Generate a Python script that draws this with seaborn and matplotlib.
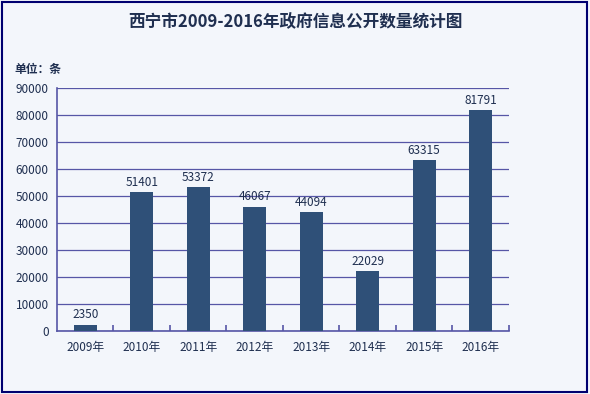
import matplotlib
matplotlib.use('Agg')
import matplotlib.pyplot as plt
import seaborn as sns
import pandas as pd
from matplotlib.patches import Rectangle

years = ['2009年', '2010年', '2011年', '2012年', '2013年', '2014年', '2015年', '2016年']
counts = [2350, 51401, 53372, 46067, 44094, 22029, 63315, 81791]

df = pd.DataFrame({'year': years, 'count': counts})

sns.set_theme(style='white')
plt.rcParams['font.family'] = ['Noto Sans CJK SC', 'DejaVu Sans']

bg = '#f3f6fb'
line_col = '#5656a6'
bar_col = '#2f5078'
text_col = '#1f2f50'

fig = plt.figure(figsize=(5.9, 3.94), dpi=100, facecolor=bg)
ax = fig.add_axes([0.0966, 0.160, 0.766, 0.617])
ax.set_facecolor(bg)

sns.barplot(data=df, x='year', y='count', color=bar_col, width=0.41,
            saturation=1, linewidth=0, ax=ax, zorder=3)

ax.set_ylim(0, 90000)
ax.set_xlim(-0.5, len(years) - 0.5)
ax.set_yticks(range(0, 90001, 10000))
ax.yaxis.grid(True, color=line_col, linewidth=0.9)
ax.set_axisbelow(True)

for s in ['top', 'right']:
    ax.spines[s].set_visible(False)
for s in ['left', 'bottom']:
    ax.spines[s].set_color(line_col)
    ax.spines[s].set_linewidth(1.2)

ax.tick_params(axis='y', length=0, labelsize=8.5, labelcolor=text_col, pad=6)
ax.tick_params(axis='x', length=0, labelsize=8.5, labelcolor=text_col, pad=7)

# category boundary ticks pointing up from the x axis
ax.set_xticks([i + 0.5 for i in range(len(years))], minor=True)
ax.tick_params(axis='x', which='minor', direction='in', length=4,
               color=line_col, width=1.2, bottom=True)

for i, v in enumerate(counts):
    ax.text(i, v + 1200, str(v), ha='center', va='bottom',
            fontsize=8.5, color=text_col, zorder=4)

ax.set_xlabel('')
ax.set_ylabel('')

fig.text(0.5, 0.945, '西宁市2009-2016年政府信息公开数量统计图', ha='center',
         va='center', fontsize=12, fontweight='bold', color=text_col)
fig.text(0.024, 0.823, '单位：条', ha='left', va='center', fontsize=8.5,
         fontweight='bold', color=text_col)

fig.patches.append(Rectangle((0.003, 0.005), 0.992, 0.99, transform=fig.transFigure,
                             fill=False, edgecolor='#000070', linewidth=1.5))

fig.savefig('out.png', dpi=100, facecolor=bg)
